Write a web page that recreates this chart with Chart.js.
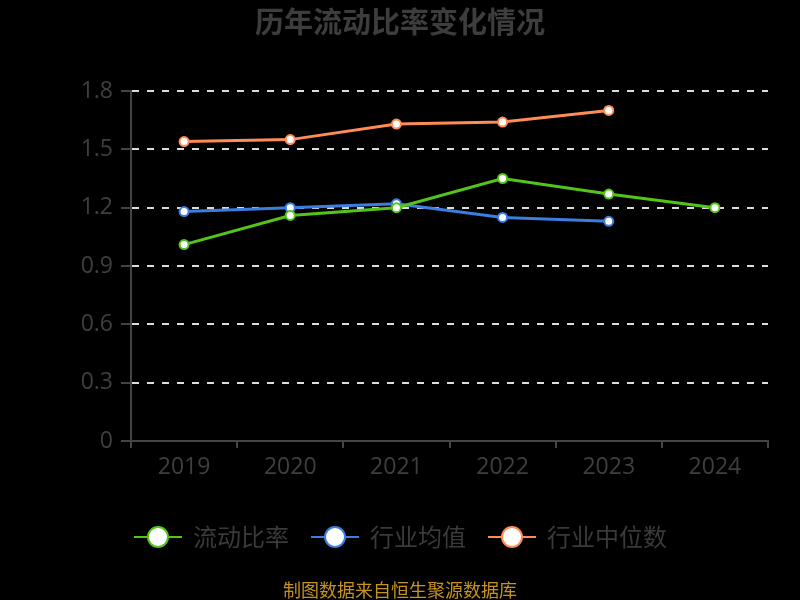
<!DOCTYPE html>
<html><head><meta charset="utf-8">
<script src="https://cdn.jsdelivr.net/npm/chart.js@4/dist/chart.umd.min.js"></script>
<style>html,body{margin:0;padding:0;background:#000;}#wrap{width:800px;height:600px;position:relative;}</style>
</head><body><div id="wrap"><canvas id="c" width="800" height="600"></canvas></div>
<script>
const titleText = '历年流动比率变化情况';
const footerText = '制图数据来自恒生聚源数据库';
const years = ['2019','2020','2021','2022','2023','2024'];
const seriesNames = ['流动比率','行业均值','行业中位数'];
const currentRatio = [1.01, 1.16, 1.20, 1.35, 1.27, 1.20];
const industryMean = [1.18, 1.20, 1.22, 1.15, 1.13, null];
const industryMedian = [1.54, 1.55, 1.63, 1.64, 1.70, null];
const yTicks = [0, 0.3, 0.6, 0.9, 1.2, 1.5, 1.8];
const colors = ['#52c41a', '#3b7de0', '#ff8c55'];

const FONT = '"Open Sans","Noto Sans CJK SC",sans-serif';
const CJK = '"Noto Sans CJK SC",sans-serif';

const overlay = {
  id: 'overlay',
  afterDraw(chart) {
    const ctx = chart.ctx;
    ctx.save();
    ctx.textAlign = 'center'; ctx.textBaseline = 'middle';
    ctx.fillStyle = '#3d3d3d';
    ctx.font = 'bold 29px ' + CJK;
    ctx.fillText(titleText, 400, 22);
    // legend
    const xs = [134, 311, 488];
    chart.data.datasets.forEach((ds, i) => {
      const x0 = xs[i], y = 537;
      ctx.strokeStyle = ds.borderColor; ctx.lineWidth = 2;
      ctx.beginPath(); ctx.moveTo(x0, y); ctx.lineTo(x0 + 48, y); ctx.stroke();
      ctx.beginPath(); ctx.arc(x0 + 24, y, 10, 0, Math.PI * 2);
      ctx.fillStyle = '#fff'; ctx.fill(); ctx.lineWidth = 2; ctx.stroke();
      ctx.fillStyle = '#3a3a3a'; ctx.font = '24px ' + CJK; ctx.textAlign = 'left';
      ctx.fillText(ds.label, x0 + 59, y);
    });
    ctx.textAlign = 'center';
    ctx.fillStyle = '#c8921e'; ctx.font = '18px ' + CJK;
    ctx.fillText(footerText, 400, 590);
    ctx.restore();
  }
};

const mk = (i, data) => ({
  label: seriesNames[i], data, borderColor: colors[i], backgroundColor: '#fff',
  borderWidth: 3, pointRadius: 4.5, pointBorderWidth: 2, pointBackgroundColor: '#fff',
  pointBorderColor: colors[i], tension: 0, spanGaps: false
});

new Chart(document.getElementById('c'), {
  type: 'line',
  data: { labels: years, datasets: [mk(0, currentRatio), mk(1, industryMean), mk(2, industryMedian)] },
  options: {
    responsive: false, animation: false,
    layout: { padding: { left: 0, right: 32, top: 91, bottom: 0 } },
    plugins: { legend: { display: false }, title: { display: false }, tooltip: { enabled: false } },
    scales: {
      x: {
        offset: true,
        afterFit: s => { s.height = 159; },
        border: { color: '#444', width: 2 },
        grid: { offset: true, drawOnChartArea: false, drawTicks: true, tickLength: 7, color: '#444', lineWidth: 2 },
        ticks: { color: '#3f3f3f', font: { family: FONT, size: 23 }, padding: 6, maxRotation: 0 }
      },
      y: {
        min: 0, max: 1.8,
        afterFit: s => { s.width = 131; },
        afterBuildTicks: s => { s.ticks = yTicks.map(v => ({ value: v })); },
        border: { color: '#444', width: 2, dash: [7, 8] },
        grid: {
          color: c => (c.tick && c.tick.value === 0) ? 'rgba(0,0,0,0)' : '#dcdcdc',
          tickColor: '#444', tickBorderDash: [], lineWidth: 2, tickLength: 10, drawTicks: true
        },
        ticks: { color: '#3f3f3f', font: { family: FONT, size: 23 }, padding: 8,
          callback: v => String(v) }
      }
    }
  },
  plugins: [overlay]
});
</script></body></html>
